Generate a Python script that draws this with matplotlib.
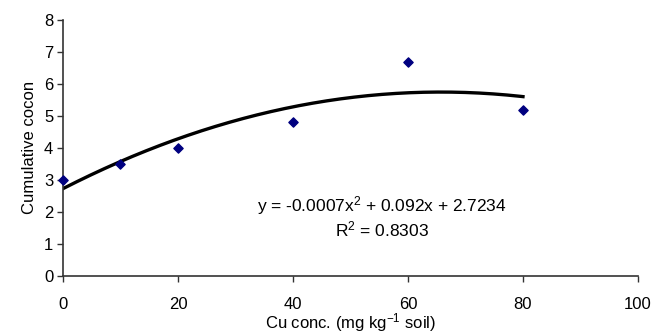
import numpy as np
from matplotlib import pyplot as plt

plt.rcParams['font.family'] = ['Liberation Sans', 'DejaVu Sans']
plt.rcParams['mathtext.fontset'] = 'custom'
plt.rcParams['mathtext.rm'] = 'Liberation Sans'
plt.rcParams['mathtext.it'] = 'Liberation Sans'

cu_conc = [0, 10, 20, 40, 60, 80]
cocon = [3.0, 3.5, 4.0, 4.8, 6.7, 5.2]
# polynomial trendline coefficients (from the equation on the chart)
trend_coef = [-0.0007, 0.092, 2.7234]
r_squared = 0.8303

fig = plt.figure(figsize=(6.58, 3.34), dpi=100)
ax = fig.add_axes([0.0957, 0.1746, 0.8739, 0.7654])

xs = np.linspace(min(cu_conc), max(cu_conc), 200)
ax.plot(xs, np.polyval(trend_coef, xs), color='black', lw=2.4, zorder=2)
ax.scatter(cu_conc, cocon, marker='D', s=22, color='#000080', zorder=3, clip_on=False)

ax.text(55.5, 1.84,
        "y = -0.0007x$^{2}$ + 0.092x + 2.7234\nR$^{2}$ = 0.8303",
        ha='center', va='center', fontsize=12.5, linespacing=1.15)

ax.set_xlim(0, 100)
ax.set_ylim(0, 8)
ax.set_xticks(range(0, 101, 20))
ax.set_yticks(range(0, 9))
ax.spines['top'].set_visible(False)
ax.spines['right'].set_visible(False)
for s in ('left', 'bottom'):
    ax.spines[s].set_color('#333333')
    ax.spines[s].set_linewidth(1.2)
ax.tick_params(direction='out', length=4, width=1, color='#333333', labelsize=12, pad=3)
ax.tick_params(axis='x', pad=11)

ax.set_xlabel("Cu conc. (mg kg$^{-1}$ soil)", fontsize=12, labelpad=0)
ax.set_ylabel("Cumulative cocon", fontsize=12, labelpad=5)

fig.savefig("out.png", dpi=100)
